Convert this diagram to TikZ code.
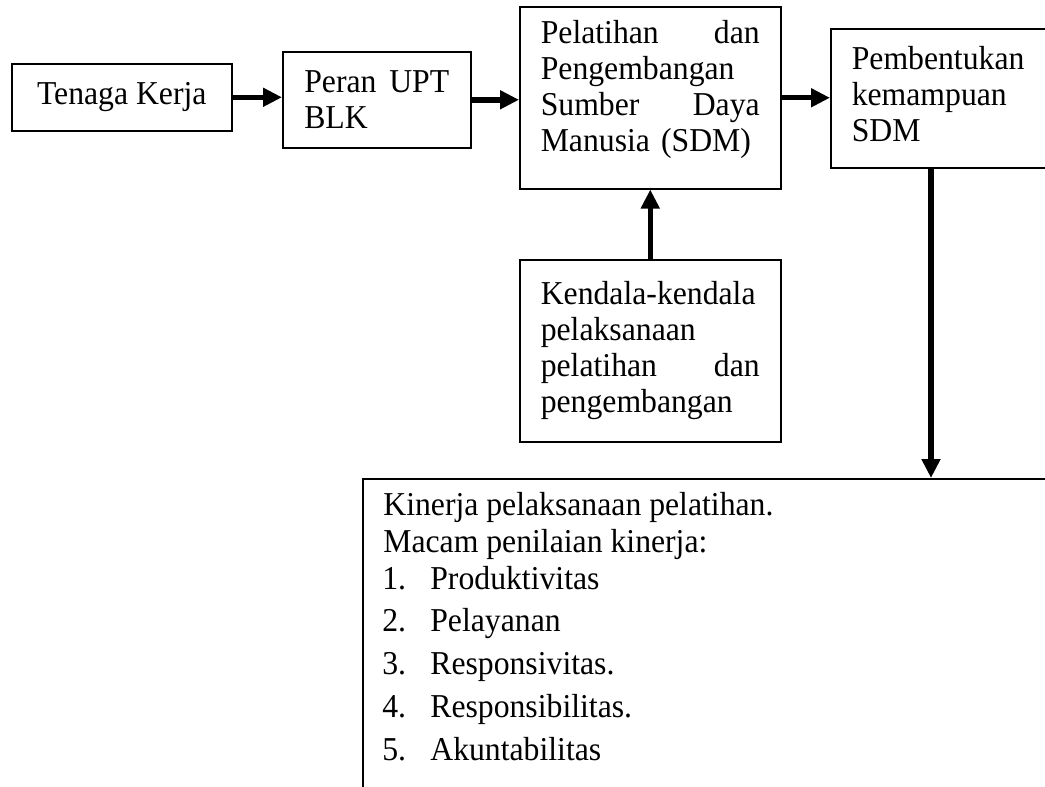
\documentclass[tikz,border=0pt]{standalone}
\usepackage{fontspec}
\setmainfont{Liberation Serif}[FakeStretch=0.95]
\usetikzlibrary{arrows.meta,positioning}
\newcommand{\boxfont}{\fontsize{19}{20.5}\selectfont}
\tikzset{
  box/.style={draw, line width=0.9pt, anchor=north west, inner sep=0pt, align=left, font=\boxfont},
  txt/.style={anchor=base west, inner sep=0pt, font=\boxfont},
  flow/.style={line width=3.1pt, -{Triangle[length=0.38cm,width=0.36cm]}},
}
\begin{document}
\begin{tikzpicture}[x=0.02cm, y=-0.02cm]
\useasboundingbox (0,0) rectangle (1045,787);
\clip (0,0) rectangle (1045,787);
% boxes of the flow
\node[box, align=center, minimum width=4.4cm, minimum height=1.34cm] (tenaga) at (11,63) {Tenaga Kerja};
\node[box, text width=2.9cm, minimum width=3.76cm, minimum height=1.92cm] (upt) at (282,51) {Peran\hfill UPT\\BLK};
\node[box, text width=4.38cm, minimum width=5.22cm, minimum height=3.64cm] (latih) at (519,6)
  {Pelatihan\hfill dan\\Pengembangan\\Sumber\hfill Daya\\Manusia (SDM)\\[-7pt]\mbox{}};
\node[box, text width=4.0cm, minimum width=4.84cm, minimum height=2.78cm] (mampu) at (830,28)
  {Pembentukan\\kemampuan\\SDM\\[-15pt]\mbox{}};
\node[box, text width=4.38cm, minimum width=5.22cm, minimum height=3.64cm] (kendala) at (519,259)
  {Kendala-kendala\\pelaksanaan\\pelatihan\hfill dan\\pengembangan};
\node[box, minimum width=14.4cm, minimum height=7cm] (kinerja) at (362,478) {};
\coordinate (turun) at (931,478);
% text of the last box
\node[txt] (judul) at (383,515) {Kinerja pelaksanaan pelatihan.};
\node[txt] (macam) at (383,552) {Macam penilaian kinerja:};
\foreach \crit [count=\n] in {Produktivitas, Pelayanan, Responsivitas., Responsibilitas., Akuntabilitas}{
  \node[txt] (no\n) at (382,{589+(\n-1)*42.75}) {\n.};
  \node[txt] (crit\n) at (430,{589+(\n-1)*42.75}) {\crit};
}
% arrows
\draw[flow] (tenaga.east) -- (tenaga.east -| upt.west);
\draw[flow] (upt.east) -- (upt.east -| latih.west);
\draw[flow] (latih.east) -- (latih.east -| mampu.west);
\draw[flow] (kendala.north) -- (latih.south);
\draw[flow] (mampu.south -| turun) -- (turun);
\end{tikzpicture}
\end{document}
